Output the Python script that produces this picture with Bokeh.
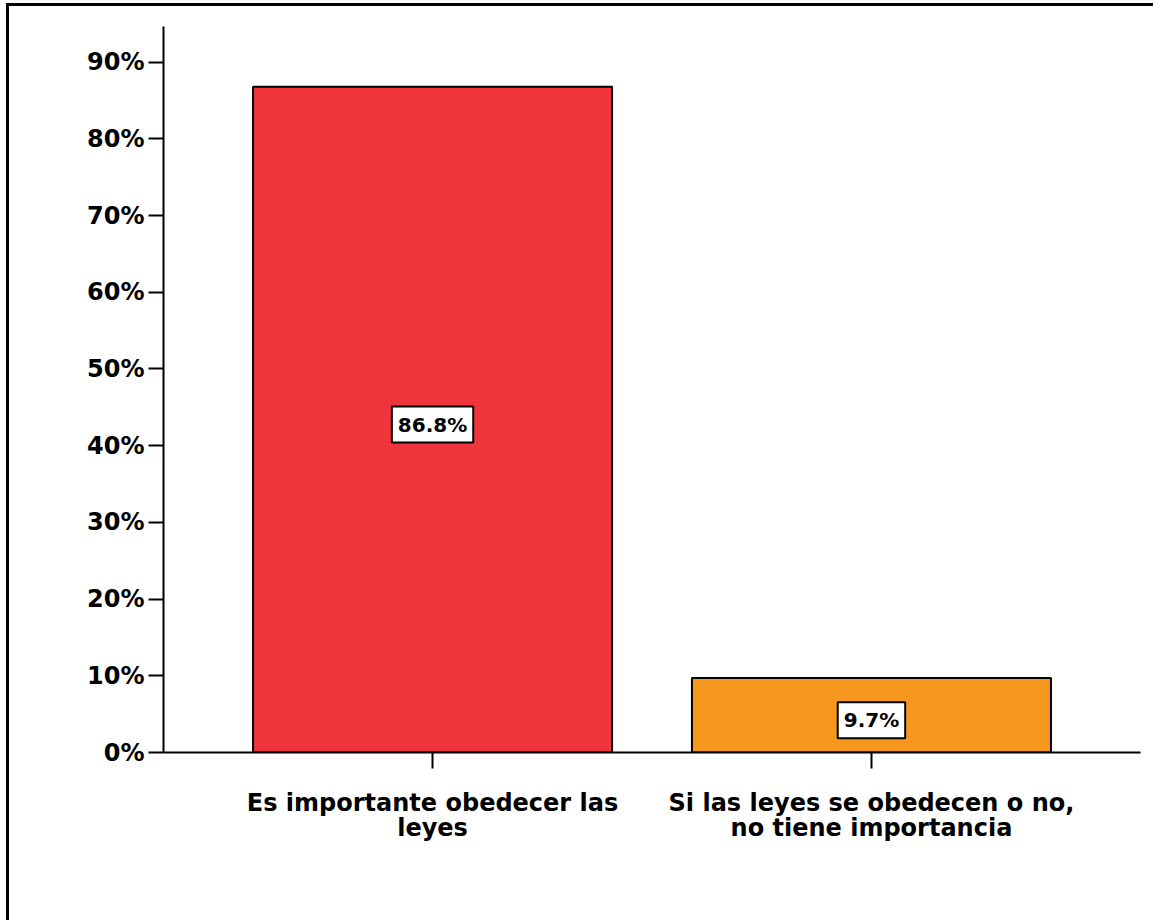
from bokeh.plotting import figure
from bokeh.models import FactorRange, Range1d, ColumnDataSource, FixedTicker
from bokeh.core.properties import value
from bokeh.embed import file_html
from bokeh.resources import INLINE

categories = ["Es importante obedecer las\nleyes",
              "Si las leyes se obedecen o no,\nno tiene importancia"]
values = [86.8, 9.7]
value_labels = ["86.8%", "9.7%"]
colors = ["#F0343B", "#F7981E"]
y_ticks = [0, 10, 20, 30, 40, 50, 60, 70, 80, 90]
y_tick_labels = ["0%", "10%", "20%", "30%", "40%", "50%", "60%", "70%", "80%", "90%"]

FONT = "DejaVu Sans"

# canvas placed at page (9, 6) via the CSS border/margin below
p = figure(
    x_range=FactorRange(*categories, range_padding=0.113, range_padding_units="absolute"),
    y_range=Range1d(0, 94.65),
    width=1147, height=917,
    output_backend="svg", toolbar_location=None,
    min_border_left=154, min_border_right=16, min_border_top=20, min_border_bottom=171,
)
p.styles = {"border-left": "3px solid black", "border-top": "3px solid black",
            "border-right": "0px none", "border-bottom": "0px none",
            "outline": "none", "box-shadow": "none",
            "margin-left": "6px", "margin-top": "3px"}
p.background_fill_color = "white"
p.border_fill_color = "white"
p.outline_line_color = None
p.xgrid.visible = False
p.ygrid.visible = False

src = ColumnDataSource(dict(x=categories, top=values, color=colors,
                            ymid=[v / 2 for v in values], label=value_labels))

p.vbar(x="x", top="top", width=0.818, source=src, fill_color="color",
       line_color="black", line_width=2)

p.text(x="x", y="ymid", text="label", source=src,
       text_align="center", text_baseline="middle",
       text_font=value(FONT), text_font_style="bold", text_font_size="20px",
       text_color="black", y_offset=5,
       background_fill_color="white", border_line_color="black",
       border_line_width=2, padding=6)

# x axis
xa = p.xaxis[0]
xa.axis_line_width = 2
xa.axis_line_color = "black"
xa.major_tick_line_width = 2
xa.major_tick_out = 16
xa.major_tick_in = 0
xa.minor_tick_out = 0
xa.major_label_text_font = FONT
xa.major_label_text_font_style = "bold"
xa.major_label_text_font_size = "24px"
xa.major_label_text_color = "black"
xa.major_label_standoff = 20
xa.major_label_text_line_height = 0.9
xa.major_label_orientation = "horizontal"

# y axis
ya = p.yaxis[0]
ya.ticker = FixedTicker(ticks=y_ticks)
ya.major_label_overrides = {t: l for t, l in zip(y_ticks, y_tick_labels)}
ya.axis_line_width = 2
ya.axis_line_color = "black"
ya.major_tick_line_width = 2
ya.major_tick_out = 15
ya.major_tick_in = 0
ya.minor_tick_out = 0
ya.minor_tick_in = 0
ya.major_label_text_font = FONT
ya.major_label_text_font_style = "bold"
ya.major_label_text_font_size = "24px"
ya.major_label_text_color = "black"
ya.major_label_standoff = 4

open("out.html", "w").write(file_html(p, INLINE))
